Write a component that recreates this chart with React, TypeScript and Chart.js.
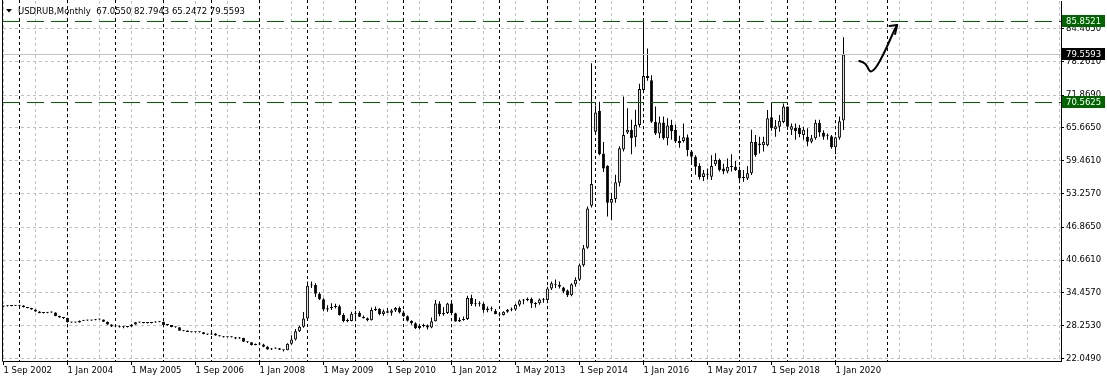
import React, { useEffect, useRef } from 'react';
import { Chart, registerables } from 'chart.js';

Chart.register(...registerables);

const FONT = 'DejaVu Sans';
const TITLE = 'USDRUB,Monthly  67.0550 82.7943 65.2472 79.5593';

const monthNames = ['Jan', 'Feb', 'Mar', 'Apr', 'May', 'Jun', 'Jul', 'Aug', 'Sep', 'Oct', 'Nov', 'Dec'];
const startYear = 2002;
const startMonth = 8; // Sep

// Monthly OHLC, Sep 2002 .. Mar 2020
const open = [
  31.90, 31.95, 31.97, 32.05,
  32.02, 32.08, 31.75, 31.62, 31.30, 30.95, 30.65, 30.68, 30.80, 30.75, 30.10, 29.80,
  29.70, 28.90, 28.88, 28.86, 29.20, 29.25, 29.24, 29.30, 29.45, 29.42, 29.00, 28.50,
  28.10, 28.15, 27.95, 28.00, 28.10, 28.50, 28.90, 28.85, 28.75, 28.78, 28.88, 29.00,
  28.98, 28.40, 28.38, 28.02, 27.95, 27.32, 27.33, 27.08, 27.00, 27.03, 27.00, 26.70,
  26.58, 26.78, 26.38, 26.28, 26.08, 26.12, 26.07, 25.84, 25.93, 25.20, 25.10, 24.60,
  24.80, 24.72, 24.28, 23.76, 23.92, 23.98, 23.70, 23.62, 24.82, 25.62, 27.20, 28.05,
  29.63, 35.85, 35.95, 34.30, 33.25, 31.30, 31.55, 31.80, 31.95, 30.30, 29.15, 29.15,
  30.50, 30.70, 29.95, 29.65, 29.30, 31.20, 31.45, 30.45, 31.00, 30.70, 31.15, 31.60,
  30.75, 30.05, 29.20, 28.70, 27.80, 28.20, 28.35, 27.90, 29.10, 32.45, 30.40, 30.65,
  32.45, 30.60, 29.05, 29.35, 29.50, 33.50, 32.30, 32.45, 32.40, 31.20, 31.50, 31.10,
  30.45, 30.30, 30.90, 31.25, 31.30, 32.20, 33.00, 33.10, 33.35, 32.45, 32.50, 33.20,
  33.10, 35.30, 36.20, 36.00, 35.50, 34.90, 34.00, 36.10, 36.95, 39.70, 43.00, 50.95,
  64.95, 68.90, 60.80, 58.50, 51.50, 52.20, 55.30, 61.60, 64.80, 65.30, 63.90, 66.20,
  72.83, 75.50, 74.70, 66.85, 64.60, 66.70, 63.70, 66.20, 65.30, 62.80, 63.20, 63.90,
  61.20, 60.20, 58.50, 56.40, 56.90, 56.44, 58.80, 59.60, 58.00, 57.40, 58.25, 58.30,
  57.70, 56.20, 56.10, 57.07, 63.06, 62.40, 62.40, 62.40, 67.70, 65.40, 65.90, 66.80,
  69.70, 65.30, 65.70, 65.70, 64.30, 64.00, 63.06, 63.70, 66.65, 64.80, 64.20, 64.10,
  62.00, 63.80, 67.055,
];
const high = [
  32.00, 32.02, 32.10, 32.12,
  32.15, 32.10, 31.80, 31.65, 31.32, 30.98, 30.75, 30.85, 30.92, 30.78, 30.15, 29.85,
  29.75, 28.98, 28.95, 29.25, 29.30, 29.32, 29.35, 29.50, 29.50, 29.44, 29.05, 28.55,
  28.35, 28.30, 28.15, 28.15, 28.55, 28.95, 29.00, 28.90, 28.85, 28.95, 29.10, 29.08,
  29.00, 28.48, 28.40, 28.05, 27.98, 27.40, 27.35, 27.10, 27.10, 27.10, 27.05, 26.75,
  26.85, 26.82, 26.45, 26.30, 26.20, 26.18, 26.10, 26.10, 25.95, 25.25, 25.15, 24.90,
  24.95, 24.85, 24.35, 24.05, 24.10, 24.05, 23.75, 24.95, 26.45, 27.65, 28.25, 30.85,
  36.60, 36.60, 36.30, 34.60, 33.45, 32.10, 32.50, 32.40, 32.20, 30.60, 29.60, 30.90,
  31.10, 31.00, 30.20, 29.80, 31.70, 31.90, 31.55, 31.30, 31.60, 31.40, 31.80, 31.90,
  31.10, 30.20, 29.30, 28.90, 28.60, 28.60, 28.50, 29.80, 33.10, 32.90, 31.80, 32.60,
  32.60, 30.70, 29.80, 30.00, 33.90, 34.10, 33.30, 32.90, 32.70, 31.90, 31.90, 31.40,
  30.80, 31.00, 31.40, 31.70, 32.40, 33.20, 33.30, 33.60, 33.60, 32.70, 33.40, 33.50,
  35.60, 36.60, 37.00, 36.60, 35.60, 35.10, 36.30, 37.40, 40.00, 43.50, 50.80, 77.90,
  69.90, 70.60, 63.00, 58.60, 53.40, 56.80, 62.20, 71.60, 69.40, 67.20, 69.10, 74.00,
  85.85, 80.70, 75.60, 69.70, 67.80, 67.80, 67.50, 67.20, 66.30, 64.20, 66.50, 64.40,
  61.50, 60.50, 59.00, 57.70, 58.00, 60.50, 60.85, 59.90, 58.90, 59.90, 60.66, 59.40,
  58.30, 57.70, 58.46, 65.30, 64.30, 63.99, 64.00, 69.05, 70.44, 67.16, 68.10, 70.30,
  69.70, 66.50, 66.50, 66.20, 65.90, 65.60, 64.30, 67.20, 67.20, 65.20, 64.60, 64.30,
  64.00, 67.80, 82.7943,
];
const low = [
  31.85, 31.88, 31.92, 31.98,
  31.98, 31.70, 31.55, 31.25, 30.90, 30.60, 30.58, 30.62, 30.70, 30.05, 29.75, 29.50,
  28.85, 28.82, 28.80, 28.84, 29.12, 29.18, 29.20, 29.26, 29.38, 28.95, 28.45, 28.00,
  27.95, 27.90, 27.75, 27.90, 28.05, 28.45, 28.80, 28.70, 28.68, 28.72, 28.85, 28.92,
  28.35, 28.25, 27.98, 27.85, 27.28, 27.20, 27.05, 26.95, 26.95, 26.95, 26.65, 26.50,
  26.55, 26.35, 26.20, 26.00, 26.00, 26.02, 25.70, 25.80, 25.15, 25.00, 24.50, 24.55,
  24.65, 24.20, 23.70, 23.65, 23.85, 23.65, 23.38, 23.60, 24.65, 25.45, 27.05, 27.85,
  29.55, 35.40, 33.70, 33.10, 31.00, 30.90, 31.20, 31.50, 30.20, 28.90, 28.90, 29.10,
  29.70, 29.90, 29.60, 29.10, 29.25, 31.05, 30.25, 30.15, 30.65, 30.15, 30.85, 30.55,
  29.95, 29.05, 28.45, 27.65, 27.55, 27.95, 27.55, 27.75, 29.05, 30.05, 30.15, 30.45,
  30.50, 29.00, 28.95, 29.20, 29.35, 32.00, 31.90, 31.90, 30.70, 30.80, 31.00, 30.40,
  30.00, 30.20, 30.70, 31.00, 31.10, 31.90, 32.30, 32.90, 31.60, 31.70, 32.20, 32.60,
  32.90, 35.00, 35.40, 35.30, 34.40, 33.70, 33.80, 35.60, 36.70, 39.40, 42.80, 50.60,
  64.30, 60.50, 57.30, 48.90, 48.20, 51.50, 54.60, 61.20, 64.50, 60.70, 62.10, 65.80,
  72.40, 74.60, 66.60, 64.30, 63.70, 63.40, 62.40, 63.40, 62.80, 61.90, 62.90, 60.30,
  58.80, 56.80, 55.90, 55.60, 55.90, 55.80, 58.45, 57.40, 56.90, 57.10, 57.40, 57.50,
  55.50, 55.50, 55.80, 56.75, 60.20, 60.80, 61.20, 62.20, 65.14, 64.00, 64.95, 66.53,
  65.27, 64.30, 63.40, 63.90, 63.40, 62.20, 62.75, 63.40, 64.00, 63.40, 63.40, 61.70,
  60.70, 63.40, 65.2472,
];
const close = [
  31.95, 31.97, 32.05, 32.02,
  32.08, 31.75, 31.62, 31.30, 30.95, 30.65, 30.68, 30.80, 30.75, 30.10, 29.80, 29.70,
  28.90, 28.88, 28.86, 29.20, 29.25, 29.24, 29.30, 29.45, 29.42, 29.00, 28.50, 28.10,
  28.15, 27.95, 28.05, 28.10, 28.50, 28.90, 28.85, 28.75, 28.78, 28.88, 29.00, 28.98,
  28.40, 28.38, 28.02, 27.95, 27.32, 27.33, 27.08, 27.00, 27.03, 27.00, 26.70, 26.58,
  26.78, 26.38, 26.28, 26.08, 26.12, 26.07, 25.84, 25.93, 25.20, 25.10, 24.60, 24.80,
  24.72, 24.28, 23.76, 23.92, 23.98, 23.70, 23.62, 24.82, 25.62, 27.20, 28.05, 29.63,
  35.80, 35.95, 34.30, 33.25, 31.30, 31.55, 31.80, 31.95, 30.30, 29.15, 29.15, 30.50,
  30.70, 29.95, 29.65, 29.30, 31.20, 31.45, 30.45, 31.00, 30.70, 31.15, 31.60, 30.75,
  30.05, 29.20, 28.70, 27.80, 28.20, 28.35, 27.90, 29.10, 32.45, 30.40, 30.65, 32.45,
  30.60, 29.05, 29.35, 29.50, 33.50, 32.30, 32.45, 32.40, 31.20, 31.50, 31.35, 30.45,
  30.35, 30.90, 31.25, 31.35, 32.20, 33.00, 33.10, 33.30, 32.45, 32.35, 33.20, 33.05,
  35.30, 36.30, 36.00, 35.60, 34.70, 34.00, 36.10, 36.95, 39.70, 42.90, 50.40, 55.05,
  68.60, 60.70, 58.00, 51.50, 52.20, 55.40, 61.80, 64.30, 65.30, 63.70, 66.20, 73.00,
  75.48, 75.10, 66.85, 64.60, 66.70, 63.70, 66.10, 65.10, 63.10, 63.20, 63.90, 61.50,
  60.20, 58.30, 56.40, 57.07, 56.80, 58.46, 59.60, 57.70, 57.40, 58.30, 58.30, 57.70,
  56.10, 56.30, 57.07, 63.06, 60.54, 62.70, 63.06, 67.50, 65.60, 66.00, 67.00, 69.70,
  65.90, 66.00, 65.10, 64.50, 65.30, 63.06, 63.70, 66.65, 64.80, 64.00, 64.30, 62.00,
  63.90, 66.90, 79.5593,
];

// category labels (one per monthly bar)
const months = open.map((_, i) => {
  const m = (startMonth + i) % 12;
  const y = startYear + Math.floor((startMonth + i) / 12);
  return `1 ${monthNames[m]} ${y}`;
});

// price axis ticks
const priceTicks = [84.465, 78.261, 71.869, 65.665, 59.461, 53.257, 46.865, 40.661, 34.457, 28.253, 22.049];
// time axis grid (bar index), labelled every 16 bars
const timeGrid = [0, 8, 16, 24, 32, 40, 48, 56, 64, 72, 80, 88, 96, 104, 112, 120, 128, 136, 144, 152, 160, 168, 176, 184, 192, 200, 208, 216, 224, 232, 240, 248, 256, 264];
const labelStep = 16;
// yearly period separators (bar index of each January)
const yearSeparators = [4, 16, 28, 40, 52, 64, 76, 88, 100, 112, 124, 136, 148, 160, 172, 184, 196, 208, 221];

const levelLines = [85.8521, 70.5625];
const bidPrice = 79.5593;

// hand-drawn forecast arrow, in (bar index, price)
const arrowIdx = [213.95, 215.1, 215.9, 216.55, 217.4, 218.4, 219.9, 221.4, 222.6, 223.4];
const arrowVal = [78.32, 78.07, 77.37, 76.29, 76.43, 77.37, 79.45, 81.91, 83.99, 85.13];
const arrowHeadIdx = [221.5, 222.9];
const arrowHeadVal = [84.94, 83.42];

const X_MIN = -0.125;
const X_MAX = 264.375;
const Y_MIN = 21.5761;
const Y_MAX = 89.6664;

const GREEN = '#006400';
const GRID = '#c0c0c0';

const overlay = {
  id: 'overlay',
  beforeDatasetsDraw(chart: any) {
    const { ctx, chartArea: a, scales } = chart;
    const x = scales.x;
    ctx.save();
    ctx.strokeStyle = '#000';
    ctx.lineWidth = 1;
    ctx.setLineDash([3, 3]);
    for (const idx of yearSeparators) {
      const px = Math.floor(x.getPixelForValue(idx)) + 0.5;
      ctx.beginPath();
      ctx.moveTo(px, 0);
      ctx.lineTo(px, a.bottom);
      ctx.stroke();
    }
    ctx.restore();
  },
  afterDatasetsDraw(chart: any) {
    const { ctx, chartArea: a, scales } = chart;
    const y = scales.y;
    ctx.save();
    ctx.lineWidth = 1;
    // bid line
    ctx.strokeStyle = GRID;
    const by = Math.floor(y.getPixelForValue(bidPrice)) + 0.5;
    ctx.beginPath();
    ctx.moveTo(a.left, by);
    ctx.lineTo(a.right, by);
    ctx.stroke();
    // level lines
    ctx.strokeStyle = GREEN;
    ctx.setLineDash([17, 7]);
    for (const v of levelLines) {
      const py = Math.floor(y.getPixelForValue(v)) + 0.5;
      ctx.beginPath();
      ctx.moveTo(a.left, py);
      ctx.lineTo(a.right, py);
      ctx.stroke();
    }
    ctx.restore();
  },
  afterDraw(chart: any) {
    const { ctx, chartArea: a, scales } = chart;
    const x = scales.x;
    const y = scales.y;
    ctx.save();
    // left frame
    ctx.strokeStyle = '#000';
    ctx.lineWidth = 1;
    ctx.beginPath();
    ctx.moveTo(a.left - 0.5, 0);
    ctx.lineTo(a.left - 0.5, a.bottom + 0.5);
    ctx.stroke();

    // price boxes on the axis
    ctx.font = `8.5px "${FONT}"`;
    ctx.textBaseline = 'middle';
    ctx.textAlign = 'left';
    const boxes: [number, string][] = [
      [levelLines[0], GREEN],
      [bidPrice, '#000'],
      [levelLines[1], GREEN],
    ];
    for (const [v, bg] of boxes) {
      const py = Math.floor(y.getPixelForValue(v)) + 0.5;
      ctx.fillStyle = bg;
      ctx.fillRect(a.right + 1, Math.round(py - 6.5), 43, 12);
      ctx.fillStyle = '#fff';
      ctx.fillText(v.toFixed(4), a.right + 5, py + 0.5);
    }

    // title
    ctx.fillStyle = '#000';
    ctx.beginPath();
    ctx.moveTo(6, 9);
    ctx.lineTo(12, 9);
    ctx.lineTo(9, 12.5);
    ctx.closePath();
    ctx.fill();
    ctx.textBaseline = 'alphabetic';
    ctx.fillText(TITLE, 18, 14);

    // forecast arrow
    const pts = arrowIdx.map((v, i) => [x.getPixelForValue(v), y.getPixelForValue(arrowVal[i])]);
    ctx.strokeStyle = '#000';
    ctx.lineWidth = 2;
    ctx.lineCap = 'round';
    ctx.lineJoin = 'round';
    ctx.beginPath();
    ctx.moveTo(pts[0][0], pts[0][1]);
    for (let i = 1; i < pts.length - 1; i++) {
      const mx = (pts[i][0] + pts[i + 1][0]) / 2;
      const my = (pts[i][1] + pts[i + 1][1]) / 2;
      ctx.quadraticCurveTo(pts[i][0], pts[i][1], mx, my);
    }
    const tip = pts[pts.length - 1];
    ctx.lineTo(tip[0], tip[1]);
    ctx.stroke();
    ctx.beginPath();
    for (let k = 0; k < arrowHeadIdx.length; k++) {
      ctx.moveTo(tip[0], tip[1]);
      ctx.lineTo(x.getPixelForValue(arrowHeadIdx[k]), y.getPixelForValue(arrowHeadVal[k]));
    }
    ctx.stroke();
    ctx.restore();
  },
};

export default function App() {
  const ref = useRef<HTMLCanvasElement | null>(null);

  useEffect(() => {
    if (!ref.current) return;
    Chart.defaults.font.family = FONT;
    const bull = (i: number) => close[i] >= open[i];
    const chart = new Chart(ref.current, {
      type: 'bar',
      data: {
        datasets: [
          {
            label: 'wick',
            data: open.map((_, i) => ({ x: i, y: [low[i], high[i]] })) as any,
            backgroundColor: '#000',
            borderWidth: 0,
            grouped: false,
            maxBarThickness: 1,
            minBarLength: 1,
            inflateAmount: 0,
            order: 2,
          } as any,
          {
            label: 'body',
            data: open.map((o, i) => ({ x: i, y: [o, close[i]] })) as any,
            backgroundColor: (c: any) => (c.dataIndex !== undefined && bull(c.dataIndex) ? '#fff' : '#000'),
            borderColor: '#000',
            borderWidth: 1,
            borderSkipped: false,
            grouped: false,
            maxBarThickness: 3,
            minBarLength: 1,
            inflateAmount: 0,
            order: 1,
          } as any,
        ],
      },
      options: {
        animation: false,
        responsive: false,
        maintainAspectRatio: false,
        devicePixelRatio: 1,
        events: [],
        layout: { padding: { left: 3, top: 1, right: 0, bottom: 0 } },
        plugins: { legend: { display: false }, tooltip: { enabled: false }, title: { display: false } },
        scales: {
          x: {
            type: 'linear',
            min: X_MIN,
            max: X_MAX,
            bounds: 'data',
            offset: false,
            afterBuildTicks: (s: any) => {
              s.ticks = timeGrid.map((v) => ({ value: v }));
            },
            afterFit: (s: any) => {
              s.height = 21;
              s.paddingLeft = 0;
              s.paddingRight = 0;
            },
            grid: {
              offset: false,
              color: GRID,
              lineWidth: 1,
              drawTicks: true,
              tickLength: 4,
              tickBorderDash: [],
              tickColor: (c: any) =>
                c.tick && c.tick.value % labelStep === 0 && c.tick.value < months.length ? '#000' : 'rgba(0,0,0,0)',
            },
            border: { display: true, color: '#000', width: 1, dash: [3, 3] },
            ticks: {
              autoSkip: false,
              maxRotation: 0,
              minRotation: 0,
              align: 'start',
              padding: 1,
              color: '#000',
              font: { family: FONT, size: 8.5 },
              callback: (v: any) => (v % labelStep === 0 && v < months.length ? months[v] : ''),
            },
          } as any,
          y: {
            type: 'linear',
            position: 'right',
            min: Y_MIN,
            max: Y_MAX,
            bounds: 'data',
            beginAtZero: false,
            afterBuildTicks: (s: any) => {
              s.ticks = priceTicks.map((v) => ({ value: v }));
            },
            afterFit: (s: any) => {
              s.width = 46;
              s.paddingTop = 0;
              s.paddingBottom = 0;
            },
            grid: {
              color: GRID,
              lineWidth: 1,
              drawTicks: true,
              tickLength: 3,
              tickColor: '#000',
              tickBorderDash: [],
            },
            border: { display: true, color: '#000', width: 1, dash: [3, 3] },
            ticks: {
              autoSkip: false,
              padding: 2,
              color: '#000',
              font: { family: FONT, size: 8.5 },
              callback: (v: any) => Number(v).toFixed(4),
            },
          } as any,
        },
      },
      plugins: [overlay],
    });
    return () => chart.destroy();
  }, []);

  return (
    <div style={{ position: 'absolute', left: 0, top: 0, width: 1107, height: 382, background: '#fff' }}>
      <canvas ref={ref} width={1107} height={382} style={{ display: 'block' }} />
    </div>
  );
}
